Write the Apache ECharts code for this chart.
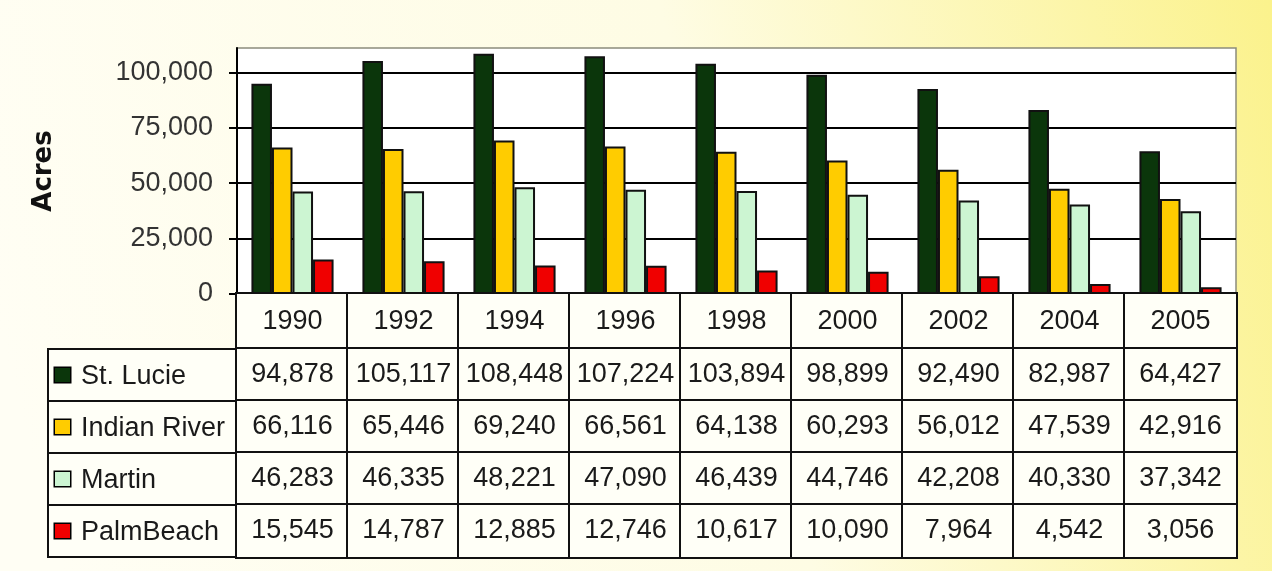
<!DOCTYPE html>
<html>
<head>
<meta charset="utf-8">
<script src="https://cdn.jsdelivr.net/npm/echarts@6/dist/echarts.min.js"></script>
<style>
html,body{margin:0;padding:0;}
#chart{width:1272px;height:571px;}
</style>
</head>
<body>
<div id="chart"></div>
<script>
// ---- data ----
const years = ['1990','1992','1994','1996','1998','2000','2002','2004','2005'];
const seriesNames = ['St. Lucie','Indian River','Martin','PalmBeach'];
const stLucie     = [94878,105117,108448,107224,103894,98899,92490,82987,64427];
const indianRiver = [66116,65446,69240,66561,64138,60293,56012,47539,42916];
const martin      = [46283,46335,48221,47090,46439,44746,42208,40330,37342];
const palmBeach   = [15545,14787,12885,12746,10617,10090,7964,4542,3056];
const yAxisTitle = 'Acres';
const yMin = 0, yMax = 111000, yStep = 25000;

// ---- styles ----
const colors = ['#0b360b','#ffcc00','#ccf5d2','#f00000'];
const FONT = 'Liberation Sans, Arial, sans-serif';
const cellW = 111, headH = 55, rowH = 52;
const allData = [stLucie, indianRiver, martin, palmBeach];
const fmt = v => v.toLocaleString('en-US');

const chart = echarts.init(document.getElementById('chart'));

const legendRich = { t: { fontSize: 27, color: '#1a1a1a', fontFamily: FONT, padding: [4,0,0,11] } };
colors.forEach((c, i) => {
  legendRich['m' + i] = { width: 15, height: 14, backgroundColor: c, borderColor: '#000', borderWidth: 1.5 };
});

const cellStyle = h => ({
  width: cellW, height: h, lineHeight: h, align: 'center', verticalAlign: 'middle',
  fontSize: 27, fontFamily: FONT, color: '#1a1a1a',
  backgroundColor: '#fffff7', borderColor: '#111', borderWidth: 2
});

const option = {
  backgroundColor: {
    type: 'linear', x: 0, y: 0.6, x2: 1, y2: 0,
    colorStops: [
      { offset: 0, color: '#fffef4' },
      { offset: 0.55, color: '#fefce4' },
      { offset: 1, color: '#fbf28c' }
    ]
  },
  animation: false,
  grid: [
    { left: 237, right: 36, top: 48, height: 246, show: true, backgroundColor: '#ffffff', borderColor: '#8c8c7c', borderWidth: 1.5 },
    { left: 48, top: 349, width: 189, height: 208, show: true, backgroundColor: '#fffff7', borderColor: '#111', borderWidth: 2 }
  ],
  xAxis: [
    {
      type: 'category', gridIndex: 0, data: years,
      axisLine: { lineStyle: { color: '#000', width: 2 } },
      axisTick: { show: false },
      axisLabel: {
        interval: 0, margin: 0,
        formatter: (v, idx) => ['{h|' + v + '}'].concat(allData.map(d => '{c|' + fmt(d[idx]) + '}')).join('\n'),
        rich: { h: cellStyle(headH), c: cellStyle(rowH) }
      }
    },
    { type: 'value', gridIndex: 1, show: false, min: 0, max: 1 }
  ],
  yAxis: [
    {
      type: 'value', gridIndex: 0, min: yMin, max: yMax, interval: yStep,
      name: yAxisTitle, nameLocation: 'middle', nameRotate: 90, nameGap: 180,
      nameTextStyle: { fontSize: 26, fontWeight: 'bold', fontFamily: 'DejaVu Sans', color: '#111' },
      axisLine: { show: true, lineStyle: { color: '#000', width: 2 } },
      axisTick: { show: true, length: 8, lineStyle: { color: '#000', width: 2 } },
      axisLabel: {
        showMaxLabel: false, margin: 24, fontSize: 27, fontFamily: FONT, color: '#333',
        formatter: v => (v % yStep === 0 ? fmt(v) : '')
      },
      splitLine: { show: true, showMaxLine: false, lineStyle: { color: '#000', width: 2 } }
    },
    {
      type: 'category', gridIndex: 1, data: seriesNames, inverse: true,
      axisLine: { show: true, lineStyle: { color: '#111', width: 2 } },
      axisTick: { show: false },
      splitLine: { show: true, lineStyle: { color: '#111', width: 2 } },
      axisLabel: {
        inside: true, margin: 7,
        formatter: (v, i) => '{m' + i + '|}{t|' + v + '}',
        rich: legendRich
      }
    }
  ],
  series: allData.map((d, i) => ({
    name: seriesNames[i], type: 'bar', xAxisIndex: 0, yAxisIndex: 0,
    data: d, barGap: '0%', barCategoryGap: '26%',
    itemStyle: { color: colors[i], borderColor: '#111', borderWidth: 2 }
  }))
};
chart.setOption(option);
</script>
</body>
</html>
